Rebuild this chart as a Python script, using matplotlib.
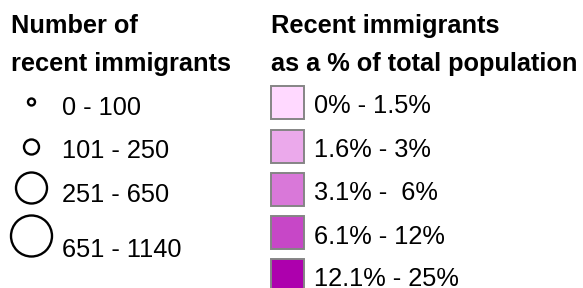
import matplotlib
matplotlib.use("Agg")
import matplotlib.pyplot as plt
from matplotlib.patches import Circle, Rectangle

plt.rcParams['font.family'] = ['Liberation Sans', 'DejaVu Sans']

count_title = ["Number of", "recent immigrants"]
count_labels = ["0 - 100", "101 - 250", "251 - 650", "651 - 1140"]

share_title = ["Recent immigrants", "as a % of total population"]
share_labels = ["0% - 1.5%", "1.6% - 3%", "3.1% -  6%", "6.1% - 12%", "12.1% - 25%"]
share_colors = ["#FFD9FF", "#EBA9EB", "#D978D9", "#C747C7", "#AD00AD"]

# drawing layout (pixels)
circle_r = [3.5, 7.5, 15.5, 20.5]
circle_y = [102, 147, 188, 236]
circle_label_y = [115, 158, 202, 257]
square_top = [86, 129.5, 172.5, 215.5, 258.5]
square_label_y = [113, 157, 200, 244, 286]
fs = 18.3

fig = plt.figure(figsize=(5.83, 2.88), dpi=100)
ax = fig.add_axes([0, 0, 1, 1])
ax.set_xlim(0, 583)
ax.set_ylim(288, 0)
ax.axis("off")

for i, t in enumerate(count_title):
    ax.text(11, 33 + 38.5 * i, t, fontsize=fs, fontweight="bold", va="baseline", ha="left")
for i, t in enumerate(share_title):
    ax.text(271, 33 + 38.5 * i, t, fontsize=fs, fontweight="bold", va="baseline", ha="left")

for lab, r, cy, ly in zip(count_labels, circle_r, circle_y, circle_label_y):
    ax.add_patch(Circle((31.5, cy), r, facecolor="white", edgecolor="black", lw=1.7))
    ax.text(62, ly, lab, fontsize=fs, va="baseline", ha="left")

for lab, col, top, ly in zip(share_labels, share_colors, square_top, square_label_y):
    ax.add_patch(Rectangle((271, top), 33, 33, facecolor=col, edgecolor="#858585", lw=1.4))
    ax.text(314, ly, lab, fontsize=fs, va="baseline", ha="left")

fig.savefig("out.png", dpi=100)
